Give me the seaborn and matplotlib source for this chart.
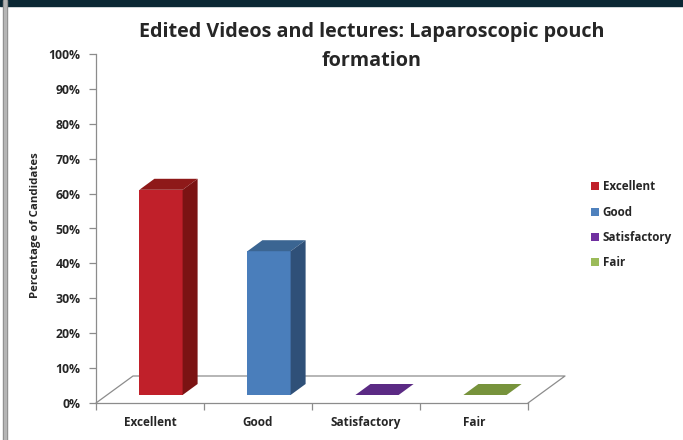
import numpy as np
import matplotlib
matplotlib.use('Agg')
import matplotlib.pyplot as plt
from matplotlib.patches import Polygon, Patch, Rectangle
import seaborn as sns

categories = ['Excellent', 'Good', 'Satisfactory', 'Fair']
values = [58.8, 41.2, 0.0, 0.0]
front_colors = ['#c0202a', '#4a7ebb', '#6a3192', '#8aaa4e']
side_colors = ['#7b1313', '#2f5078', '#45205f', '#5c7334']
top_colors = ['#8e1919', '#3b6592', '#5b2a84', '#77933c']
legend_colors = ['#c0202a', '#4f81bd', '#7030a0', '#9bbb59']
y_ticks = np.arange(0, 101, 10)
tick_labels = ['%d%%' % t for t in y_ticks]

W, H = 683, 440
sns.set_theme(style='white')
plt.rcParams['font.family'] = ['Open Sans', 'DejaVu Sans']
plt.rcParams['font.weight'] = 'bold'

fig = plt.figure(figsize=(W / 100, H / 100), dpi=100)
ax_l, ax_b, ax_w, ax_h = 96, 403, 432, 349
ax = fig.add_axes([ax_l / W, (H - ax_b) / H, ax_w / W, ax_h / H])

# px -> data units
px_x = 4.0 / ax_w
px_y = 100.0 / ax_h

sns.barplot(x=categories, y=values, hue=categories, palette=front_colors,
            width=0.4, legend=False, ax=ax, saturation=1, edgecolor='none')

front_off = (11, 8)
back_off = (26, 19)
floor_off = (37, 27)

# floor
gray = '#8c8c8c'
fx, fy = floor_off[0] * px_x, floor_off[1] * px_y
ax.plot([-0.5, -0.5 + fx, 3.5 + fx, 3.5], [0, fy, fy, 0], color=gray, lw=0.9,
        clip_on=False, zorder=1)

# 3d bars
for i, p in enumerate(ax.patches):
    x0 = p.get_x() + front_off[0] * px_x
    y0 = front_off[1] * px_y
    w = p.get_width()
    h = p.get_height()
    p.set_x(x0)
    p.set_y(y0)
    p.set_zorder(3)
    ddx = (back_off[0] - front_off[0]) * px_x
    ddy = (back_off[1] - front_off[1]) * px_y
    top = Polygon([[x0, y0 + h], [x0 + w, y0 + h], [x0 + w + ddx, y0 + h + ddy],
                   [x0 + ddx, y0 + h + ddy]], closed=True, color=top_colors[i],
                  lw=0, zorder=3, clip_on=False)
    ax.add_patch(top)
    if h > 0:
        side = Polygon([[x0 + w, y0], [x0 + w + ddx, y0 + ddy],
                        [x0 + w + ddx, y0 + h + ddy], [x0 + w, y0 + h]],
                       closed=True, color=side_colors[i], lw=0, zorder=3)
        ax.add_patch(side)

ax.set_xlim(-0.5, 3.5)
ax.set_ylim(0, 100)
ax.set_yticks(y_ticks)
ax.set_yticklabels(tick_labels, fontsize=8.8, fontweight='bold')
ax.set_xticks([-0.5, 0.5, 1.5, 2.5, 3.5])
ax.set_xticklabels([])
ax.set_xticks(range(len(categories)), minor=True)
ax.set_xticklabels(categories, minor=True, fontsize=8.5, fontweight='bold')
ax.tick_params(axis='x', which='minor', length=0, pad=9)
ax.tick_params(axis='both', which='major', direction='out', length=5,
               color=gray, width=0.9, left=True, bottom=True)
ax.tick_params(axis='y', pad=6)
for s in ['top', 'right']:
    ax.spines[s].set_visible(False)
for s in ['left', 'bottom']:
    ax.spines[s].set_color(gray)
    ax.spines[s].set_linewidth(0.9)
ax.set_xlabel('')
ax.set_ylabel('Percentage of Candidates', fontsize=8.2, fontweight='bold')
ax.yaxis.label.set_va('center')
ax.yaxis.set_label_coords((36 - ax_l) / ax_w, (ax_b - 225) / ax_h)
ax.patch.set_alpha(0)

fig.text(372 / W, 1 - 46 / H, 'Edited Videos and lectures: Laparoscopic pouch\nformation',
         ha='center', va='center', fontsize=14.2, fontweight='bold',
         linespacing=1.6)

handles = [Patch(facecolor=c, edgecolor='none') for c in legend_colors]
fig.legend(handles, categories, loc='upper left',
           bbox_to_anchor=(580 / W, 1 - 170 / H), frameon=False,
           prop={'size': 8.4, 'weight': 'bold'}, handlelength=0.7,
           handleheight=0.7, handletextpad=0.35, labelspacing=1.05)

# frame decorations
fig.patches.append(Rectangle((0, 1 - 6 / H), 1, 6 / H, transform=fig.transFigure,
                             color='#0b2834', zorder=10))
fig.patches.append(Rectangle((3 / W, 0), 4 / W, 1, transform=fig.transFigure,
                             color='#8a8a8a', zorder=10))
fig.patches.append(Rectangle((4 / W, 0), 1.5 / W, 1, transform=fig.transFigure,
                             color='#b5b5b5', zorder=11))

fig.savefig('out.png', dpi=100)
